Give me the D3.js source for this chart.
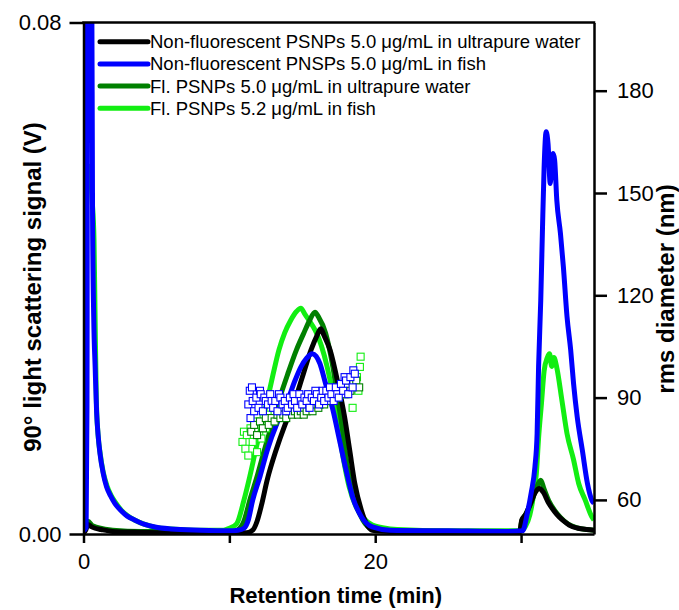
<!DOCTYPE html>
<html>
<head>
<meta charset="utf-8">
<script src="https://cdn.jsdelivr.net/npm/d3@7"></script>
<style>
  body { margin: 0; background: #fff; }
  svg text { font-family: "Liberation Sans", Arial, sans-serif; fill: #000; }
</style>
</head>
<body>
<svg id="chart" width="679" height="610"></svg>
<script>
// light scattering signal (V) vs retention time (min)
var nonFlWater = [[0,0.0002],[0.15,0.0006],[0.3,0.0015],[0.5,0.0012],[0.8,0.0009],[1.2,0.0007],[2,0.0004],[3.5,0.0003],[6,0.0002],[9,0.0002],[11.2,0.0002],[11.6,0.0006],[11.9,0.002],[12.2,0.0045],[12.6,0.0085],[13.2,0.0131],[13.8,0.017],[14.5,0.0209],[15.0,0.0245],[15.6,0.0288],[16.0,0.031],[16.26,0.0321],[16.5,0.031],[16.9,0.0288],[17.45,0.0235],[17.9,0.0183],[18.25,0.0131],[18.6,0.0079],[19.05,0.0037],[19.4,0.0016],[19.8,0.0006],[21,0.0004],[24,0.0003],[27,0.0002],[29.9,0.0003],[30.05,0.0022],[30.3,0.003],[30.6,0.0045],[31.0,0.0066],[31.25,0.0071],[31.5,0.0066],[31.9,0.0048],[32.3,0.0035],[32.6,0.0027],[33.0,0.0019],[33.3,0.0014],[33.9,0.0009],[34.5,0.0007],[35,0.0006]];

var nonFlFish = [[0,0.0005],[0.18,0.001],[0.24,0.02],[0.28,0.09],[0.56,0.09],[0.62,0.05],[0.7,0.034],[0.8,0.026],[0.9,0.019],[1.0,0.0155],[1.13,0.0126],[1.35,0.0095],[1.58,0.0074],[1.85,0.006],[2.15,0.0048],[2.6,0.0036],[3.0,0.0028],[3.5,0.0022],[4.2,0.0015],[4.9,0.0011],[6,0.0008],[8,0.0006],[10,0.0005],[10.6,0.0006],[11.0,0.0009],[11.3,0.0022],[11.6,0.0053],[12.1,0.009],[12.6,0.0131],[13.3,0.0175],[14.0,0.0209],[14.5,0.024],[14.9,0.0261],[15.3,0.0275],[15.69,0.0282],[15.95,0.0278],[16.2,0.0267],[16.6,0.0235],[17.1,0.0194],[17.55,0.0147],[18.0,0.01],[18.45,0.0058],[19.05,0.0027],[19.8,0.0011],[21,0.0006],[25,0.0005],[29,0.0004],[30.1,0.0005],[30.45,0.0035],[30.7,0.0065],[30.95,0.0105],[31.1,0.0157],[31.2,0.0261],[31.35,0.0366],[31.46,0.047],[31.58,0.0574],[31.72,0.0629],[31.85,0.061],[32.0,0.0548],[32.1,0.058],[32.2,0.0595],[32.3,0.0585],[32.45,0.0522],[32.7,0.047],[32.9,0.0418],[33.15,0.034],[33.4,0.0288],[33.6,0.0235],[33.85,0.0183],[34.2,0.0131],[34.55,0.0079],[34.85,0.0053],[35,0.0048]];

var flWater = [[0,0.0003],[0.1,0.0008],[0.15,0.0015],[0.3,0.002],[0.6,0.0013],[1.0,0.001],[2,0.0006],[4,0.0004],[8,0.0004],[10.2,0.0004],[10.6,0.0007],[11.0,0.002],[11.4,0.0053],[11.9,0.009],[12.4,0.0131],[12.9,0.017],[13.4,0.0209],[14.0,0.025],[14.6,0.0288],[15.1,0.0314],[15.5,0.0334],[15.87,0.0347],[16.1,0.034],[16.6,0.0314],[17.1,0.0261],[17.45,0.0209],[17.8,0.0157],[18.1,0.0105],[18.6,0.0053],[19.15,0.0022],[19.8,0.0008],[21,0.0005],[25,0.0004],[29.9,0.0004],[30.05,0.002],[30.35,0.0032],[30.7,0.005],[31.05,0.0072],[31.35,0.0084],[31.55,0.0072],[31.9,0.0052],[32.3,0.0037],[32.7,0.0026],[33.2,0.0016],[33.8,0.001],[34.5,0.0007],[35,0.0006]];

var flFish = [[0,0.0003],[0.1,0.0008],[0.16,0.03],[0.19,0.057],[0.4,0.0575],[0.6,0.052],[0.72,0.046],[0.8,0.033],[0.88,0.021],[1.0,0.0155],[1.13,0.0128],[1.35,0.0097],[1.6,0.0076],[1.9,0.006],[2.2,0.0049],[2.6,0.0037],[3.0,0.0029],[3.5,0.0022],[4.2,0.0015],[5,0.001],[6,0.0008],[8,0.0006],[9.6,0.0006],[10.0,0.0009],[10.5,0.0016],[11.0,0.0053],[11.4,0.009],[11.8,0.0131],[12.2,0.017],[12.6,0.0209],[13.0,0.025],[13.4,0.0288],[13.8,0.0315],[14.2,0.0334],[14.6,0.0348],[14.9,0.0353],[15.2,0.0343],[15.5,0.0333],[15.9,0.0318],[16.3,0.0295],[16.7,0.0262],[17.1,0.0218],[17.45,0.017],[17.8,0.012],[18.2,0.0075],[18.7,0.0042],[19.2,0.0025],[19.8,0.0014],[20.5,0.001],[21.5,0.0007],[25,0.0005],[30.0,0.0005],[30.3,0.0012],[30.6,0.003],[30.85,0.006],[31.05,0.0095],[31.2,0.015],[31.4,0.0205],[31.58,0.0255],[31.8,0.0276],[31.95,0.0282],[32.1,0.0262],[32.25,0.0276],[32.45,0.026],[32.8,0.0209],[33.15,0.0157],[33.6,0.0116],[33.95,0.0079],[34.4,0.0053],[34.85,0.0027],[35,0.0022]];

// rms diameter (nm) vs retention time (min)
var rmsNonFlFish = [[11.3,88],[11.4,92],[11.45,84],[11.55,93],[11.6,89],[11.7,86],[11.85,90],[12.0,87],[12.1,92],[12.15,91],[12.3,86],[12.4,90],[12.5,89],[12.65,88],[12.8,91],[12.9,89],[13.0,87],[13.15,89],[13.3,86],[13.4,91],[13.5,90],[13.65,88],[13.8,89],[13.9,86],[14.0,87],[14.15,90],[14.3,88],[14.4,91],[14.5,89],[14.65,87],[14.8,91],[14.9,89],[15.0,88],[15.15,90],[15.3,89],[15.4,91],[15.5,87],[15.65,90],[15.8,89],[15.9,92],[16.0,91],[16.15,88],[16.3,90],[16.4,92],[16.5,89],[16.65,92],[16.8,90],[16.9,93],[17.0,91],[17.15,89],[17.3,93],[17.4,91],[17.5,90],[17.65,94],[17.8,92],[17.9,96],[18.0,95],[18.15,91],[18.3,96],[18.45,93],[18.5,98],[18.6,97]];

var rmsFlWater = [[11.5,80],[11.7,82],[11.9,79],[12.1,83],[12.3,81],[12.5,84],[12.7,82],[12.9,84],[13.1,83],[13.3,85],[13.5,84],[13.7,85],[13.9,84],[14.1,86],[14.3,85],[14.5,86],[14.7,85],[14.9,86],[15.1,85],[15.3,86],[15.5,87],[15.7,86],[15.9,88],[16.1,87],[16.3,89],[16.5,88],[16.7,90],[16.9,89],[17.1,90],[17.3,91],[17.5,90],[17.7,92],[17.9,91],[18.1,93],[18.3,92],[18.5,94],[18.7,95],[18.9,93]];

var rmsFlFish = [[10.9,77],[11.0,80],[11.1,75],[11.2,79],[11.3,73],[11.45,81],[11.6,77],[11.75,83],[11.9,74],[12.05,79],[12.2,78],[12.35,84],[12.5,81],[12.7,85],[12.9,83],[13.1,86],[13.35,84],[13.6,87],[13.85,85],[14.1,88],[14.4,86],[14.7,88],[15.0,87],[15.3,89],[15.6,88],[15.9,89],[16.2,88],[16.5,90],[16.8,89],[17.1,91],[17.4,90],[17.7,92],[18.0,91],[18.25,93],[18.45,87],[18.6,94],[18.75,96],[18.85,92],[18.95,99],[19.0,102]];

var seriesNames = [
  "Non-fluorescent PSNPs 5.0 \u03bcg/mL in ultrapure water",
  "Non-fluorescent PNSPs 5.0 \u03bcg/mL in fish",
  "Fl. PSNPs 5.0 \u03bcg/mL in ultrapure water",
  "Fl. PSNPs 5.2 \u03bcg/mL in fish"
];
var xTicks = [0, 10, 20, 30];
var xLabels = [0, 20];
var yLeftTicks = [0, 0.08];
var yRightTicks = [60, 90, 120, 150, 180];

var colors = ["#000000", "#0000ff", "#008000", "#12ee12"];

var svg = d3.select("#chart"),
    W = 679, H = 610,
    m = {left: 83.5, right: 85, top: 22.5, bottom: 76};
var x = d3.scaleLinear().domain([0, 35]).range([m.left, W - m.right]);
var y = d3.scaleLinear().domain([0, 0.08]).range([H - m.bottom, m.top]);
var y2 = d3.scaleLinear().domain([50, 200]).range([H - m.bottom, m.top]);

svg.append("defs").append("clipPath").attr("id", "plotclip")
  .append("rect")
    .attr("x", x(0)).attr("y", y(0.08))
    .attr("width", x(35) - x(0)).attr("height", y(0) - y(0.08));

var line = d3.line()
    .x(function(d) { return x(d[0]); })
    .y(function(d) { return y(d[1]); })
    .curve(d3.curveMonotoneX);

var plot = svg.append("g").attr("clip-path", "url(#plotclip)");

// draw order: light green, dark green, black, blue
var curves = [[flFish, 3], [flWater, 2], [nonFlWater, 0], [nonFlFish, 1]];
curves.forEach(function(c) {
  plot.append("path")
    .datum(c[0])
    .attr("d", line)
    .style("fill", "none")
    .style("stroke", colors[c[1]])
    .style("stroke-width", 5)
    .style("stroke-linejoin", "round");
});

// rms diameter squares
var squares = [[rmsFlFish, 3], [rmsFlWater, 2], [rmsNonFlFish, 1]];
var sq = 7;
squares.forEach(function(s) {
  plot.append("g").selectAll("rect")
    .data(s[0])
  .enter().append("rect")
    .attr("x", function(d) { return x(d[0]) - sq / 2; })
    .attr("y", function(d) { return y2(d[1]) - sq / 2; })
    .attr("width", sq).attr("height", sq)
    .style("fill", "#fff")
    .style("stroke", colors[s[1]])
    .style("stroke-width", 1.1);
});

// axes
function styleAxis(g) {
  g.select(".domain").style("stroke", "#000").style("stroke-width", 2.5);
  g.selectAll(".tick line").style("stroke", "#000").style("stroke-width", 2.5);
  g.selectAll(".tick text").style("font-size", "22px").style("fill", "#000")
    .style("font-family", "'Liberation Sans', Arial, sans-serif");
}

svg.append("g")
    .attr("transform", "translate(0," + y(0) + ")")
    .call(d3.axisBottom(x).tickValues(xTicks).tickSize(9).tickPadding(10).tickSizeOuter(0)
      .tickFormat(function(d) { return xLabels.indexOf(d) >= 0 ? d : ""; }))
    .call(styleAxis);

svg.append("g")
    .attr("transform", "translate(" + x(0) + ",0)")
    .call(d3.axisLeft(y).tickValues(yLeftTicks).tickSize(14).tickPadding(8).tickSizeOuter(0)
      .tickFormat(d3.format(".2f")))
    .call(styleAxis);

svg.append("g")
    .attr("transform", "translate(" + x(35) + ",0)")
    .call(d3.axisRight(y2).tickValues(yRightTicks).tickSize(13).tickPadding(10).tickSizeOuter(0))
    .call(styleAxis);

// top frame line
svg.append("line")
    .attr("x1", x(0) - 1.25).attr("x2", x(35) + 1.25)
    .attr("y1", y(0.08)).attr("y2", y(0.08))
    .style("stroke", "#000").style("stroke-width", 2.5);

// axis titles
svg.append("text")
    .attr("x", (x(0) + x(35)) / 2 - 3).attr("y", 603)
    .attr("text-anchor", "middle")
    .style("font-size", "22px").style("font-weight", "bold")
    .text("Retention time (min)");

svg.append("text")
    .attr("transform", "translate(41," + 287 + ") rotate(-90)")
    .attr("text-anchor", "middle")
    .style("font-size", "24px").style("font-weight", "bold")
    .text("90\u00b0 light scattering signal (V)");

svg.append("text")
    .attr("transform", "translate(674," + 289 + ") rotate(-90)")
    .attr("text-anchor", "middle")
    .style("font-size", "24px").style("font-weight", "bold")
    .text("rms diameter (nm)");

// legend
var legend = svg.append("g").selectAll("g")
    .data(seriesNames)
  .enter().append("g")
    .attr("transform", function(d, i) { return "translate(100," + (41.7 + i * 22.2) + ")"; });

legend.append("line")
    .attr("x1", 0).attr("x2", 48)
    .style("stroke", function(d, i) { return colors[i]; })
    .style("stroke-width", 5)
    .style("stroke-linecap", "round");

legend.append("text")
    .attr("x", 50).attr("dy", "0.35em")
    .style("font-size", "18.5px")
    .text(function(d) { return d; });
</script>
</body>
</html>
